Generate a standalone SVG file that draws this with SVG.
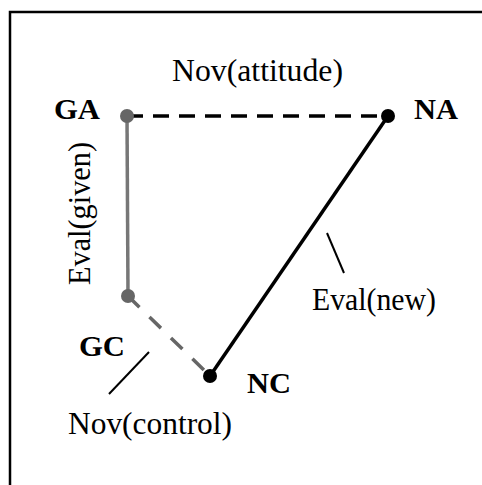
<svg xmlns="http://www.w3.org/2000/svg" width="482" height="485" viewBox="0 0 482 485">
<style>
  .lbl { font-family: "Liberation Serif", "Times New Roman", serif; font-size: 31px; fill: #000; }
  .bold { font-family: "Liberation Serif", "Times New Roman", serif; font-size: 30px; font-weight: bold; fill: #000; }
  .tick { stroke: #000; stroke-width: 2; fill: none; }
</style>
<rect x="10" y="12" width="500" height="500" fill="#fff" stroke="#000" stroke-width="2.5"/>
<g id="connectors">
  <line x1="127" y1="116" x2="388" y2="116" stroke="#000" stroke-width="3.5" stroke-dasharray="16 10"/>
  <line x1="127" y1="116" x2="128" y2="296" stroke="#777" stroke-width="3.5"/>
  <line x1="128" y1="296" x2="210" y2="376" stroke="#666" stroke-width="3.5" stroke-dasharray="16 14"/>
  <line x1="388" y1="116" x2="210" y2="376" stroke="#000" stroke-width="3.5"/>
  <line class="tick" x1="327" y1="233" x2="344" y2="273"/>
  <line class="tick" x1="149" y1="352" x2="109" y2="394"/>
</g>
<g id="GA">
  <circle cx="127" cy="116" r="7" fill="#666"/>
  <text class="bold" x="54" y="119" textLength="46" lengthAdjust="spacingAndGlyphs">GA</text>
</g>
<g id="NA">
  <circle cx="388" cy="116" r="7" fill="#000"/>
  <text class="bold" x="414" y="119" textLength="44" lengthAdjust="spacingAndGlyphs">NA</text>
</g>
<g id="GC">
  <circle cx="128" cy="296" r="7" fill="#666"/>
  <text class="bold" x="79" y="356" textLength="46" lengthAdjust="spacingAndGlyphs">GC</text>
</g>
<g id="NC">
  <circle cx="210" cy="376" r="7" fill="#000"/>
  <text class="bold" x="247" y="393" textLength="44" lengthAdjust="spacingAndGlyphs">NC</text>
</g>
<g id="labels">
  <text class="lbl" x="172" y="81" textLength="171" lengthAdjust="spacingAndGlyphs">Nov(attitude)</text>
  <text class="lbl" x="0" y="0" transform="translate(90,285) rotate(-90)" textLength="143" lengthAdjust="spacingAndGlyphs">Eval(given)</text>
  <text class="lbl" x="312" y="310" textLength="124" lengthAdjust="spacingAndGlyphs">Eval(new)</text>
  <text class="lbl" x="68" y="434" textLength="164" lengthAdjust="spacingAndGlyphs">Nov(control)</text>
</g>
</svg>
